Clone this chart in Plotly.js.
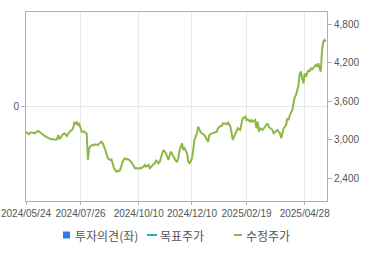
<!DOCTYPE html>
<html>
<head>
<meta charset="utf-8">
<script src="https://cdn.plot.ly/plotly-3.0.1.min.js"></script>
<style>html,body{margin:0;padding:0;background:#fff;}#chart{width:370px;height:255px;}</style>
</head>
<body>
<div id="chart"></div>
<script>
// Market holidays (KRX) inside the period, used to build the trading-day categories
const holidays = ['2024/06/06','2024/08/15','2024/09/16','2024/09/17','2024/09/18','2024/10/01','2024/10/03','2024/10/09','2024/12/25','2024/12/31','2025/01/01','2025/01/27','2025/01/28','2025/01/29','2025/01/30','2025/03/03','2025/05/01','2025/05/05','2025/05/06'];
const startDate = '2024/05/24';

// Adjusted close (수정주가), one value per trading day
const adjPrice = [
3126,3110,3086,3100,3117,3112,3105,3101,3115,3128,
3137,3120,3101,3090,3075,3059,3050,3040,3023,3015,
3008,3012,3005,3010,3002,3008,3075,3008,3040,3075,
3090,3101,3080,3059,3095,3122,3140,3153,3179,3266,
3250,3282,3231,3246,3200,3126,3130,3126,3110,3101,
2685,2868,2900,2919,2925,2915,2930,2925,2919,2940,
2955,2970,2945,2900,2841,2780,2712,2700,2685,2696,
2607,2560,2529,2503,2519,2510,2529,2607,2660,2690,
2712,2696,2700,2690,2674,2650,2623,2590,2556,2560,
2556,2550,2560,2556,2570,2581,2607,2581,2595,2607,
2556,2580,2607,2620,2634,2685,2660,2634,2659,2737,
2790,2841,2815,2790,2740,2685,2760,2815,2780,2737,
2685,2670,2659,2712,2841,2900,2945,2841,2868,2830,
2790,2659,2634,2670,2712,2841,2997,3050,3101,3204,
3153,3120,3101,3090,3075,3040,2997,2970,3075,3090,
3101,3105,3111,3120,3126,3179,3200,3215,3215,3257,
3250,3257,3242,3266,3240,3204,3101,2997,3048,3100,
3153,3179,3165,3153,3257,3335,3345,3360,3309,3319,
3300,3282,3309,3282,3295,3309,3179,3282,3126,3179,
3165,3153,3180,3204,3235,3257,3200,3179,3165,3153,
3101,3120,3140,3153,3125,3101,3023,3126,3179,3205,
3231,3335,3309,3386,3420,3464,3569,3672,3698,3780,
3854,4036,4061,3950,3880,4036,3983,4040,4088,4061,
4114,4099,4120,4139,4166,4139,4192,4114,4061,4400,
4529,4555,4529
];
// 투자의견 / 목표주가: no values in this period
const opinion = [];
const targetPrice = [];

const xTicks = ['2024/05/24','2024/07/26','2024/10/10','2024/12/10','2025/02/19','2025/04/28'];
const rightTicks = [2400,3000,3600,4200,4800];

function fmt(d){
  const m = String(d.getUTCMonth()+1).padStart(2,'0');
  const dd = String(d.getUTCDate()).padStart(2,'0');
  return d.getUTCFullYear()+'/'+m+'/'+dd;
}
function tradingDates(start, n){
  const p = start.split('/').map(Number);
  let d = new Date(Date.UTC(p[0], p[1]-1, p[2]));
  const out = [];
  while(out.length < n){
    const wd = d.getUTCDay();
    const s = fmt(d);
    if(wd !== 0 && wd !== 6 && holidays.indexOf(s) < 0) out.push(s);
    d = new Date(d.getTime() + 86400000);
  }
  return out;
}
const dates = tradingDates(startDate, adjPrice.length);

const W = 370, H = 255, ML = 26, MR = 43, MT = 12, MB = 54;
const PW = W - ML - MR, PH = H - MT - MB;
const px = v => (v - ML) / PW;
const py = v => (H - MB - v) / PH;

const traces = [
  {type:'bar', x: opinion.map((_, i) => dates[i]), y: opinion, marker:{color:'#2b7de6'}, name:'투자의견(좌)', yaxis:'y', showlegend:false},
  {type:'scatter', mode:'lines', x: targetPrice.map((_, i) => dates[i]), y: targetPrice, line:{color:'#25adc0', width:2}, name:'목표주가', yaxis:'y2', showlegend:false},
  {type:'scatter', mode:'lines', x: dates, y: adjPrice, line:{color:'#8cb848', width:2}, name:'수정주가', yaxis:'y2', showlegend:false}
];

const tickFont = {family:'"Liberation Sans", Arial, sans-serif', size:10, color:'#555'};
const legFont = {family:'"Noto Sans CJK KR", sans-serif', size:12, color:'#555'};

const layout = {
  width: W, height: H,
  margin: {l: ML, r: MR, t: MT, b: MB, pad: 0},
  paper_bgcolor: '#fff', plot_bgcolor: '#fff',
  showlegend: false,
  xaxis: {
    type: 'category', categoryorder: 'array', categoryarray: dates,
    range: [0, 243], tickvals: xTicks, ticktext: xTicks,
    showgrid: true, gridcolor: '#e8e8e8', gridwidth: 1,
    showline: true, linecolor: '#b0b0b0', linewidth: 1, mirror: true,
    ticks: 'outside', ticklen: 3, tickcolor: '#b0b0b0',
    tickfont: tickFont, tickangle: 0, automargin: false, fixedrange: true
  },
  yaxis: {
    range: [-1, 1], tickvals: [0], ticktext: ['0'],
    showgrid: true, gridcolor: '#e8e8e8', zeroline: false,
    showline: true, linecolor: '#b0b0b0', linewidth: 1,
    ticks: 'outside', ticklen: 4, tickcolor: '#b0b0b0',
    tickfont: tickFont, automargin: false, fixedrange: true
  },
  yaxis2: {
    overlaying: 'y', side: 'right',
    range: [2046, 4992], tickvals: rightTicks, tickformat: ',d',
    showgrid: false, zeroline: false,
    showline: true, linecolor: '#b0b0b0', linewidth: 1,
    ticks: 'outside', ticklen: 4, tickcolor: '#b0b0b0',
    tickfont: tickFont, automargin: false, fixedrange: true
  },
  shapes: [
    {type:'rect', xref:'paper', yref:'paper', x0: px(63), x1: px(70), y0: py(238.5), y1: py(231.5), fillcolor:'#2b7de6', line:{width:0}},
    {type:'line', xref:'paper', yref:'paper', x0: px(147), x1: px(157), y0: py(235), y1: py(235), line:{color:'#25adc0', width:2}},
    {type:'line', xref:'paper', yref:'paper', x0: px(234), x1: px(242), y0: py(235), y1: py(235), line:{color:'#8cb848', width:2}}
  ],
  annotations: [
    {xref:'paper', yref:'paper', x: px(73), y: py(235), xanchor:'left', yanchor:'middle', text:'투자의견(좌)', showarrow:false, font: legFont},
    {xref:'paper', yref:'paper', x: px(158), y: py(235), xanchor:'left', yanchor:'middle', text:'목표주가', showarrow:false, font: legFont},
    {xref:'paper', yref:'paper', x: px(243.5), y: py(235), xanchor:'left', yanchor:'middle', text:'수정주가', showarrow:false, font: legFont}
  ]
};

Plotly.newPlot('chart', traces, layout, {staticPlot: true, displayModeBar: false});
</script>
</body>
</html>
